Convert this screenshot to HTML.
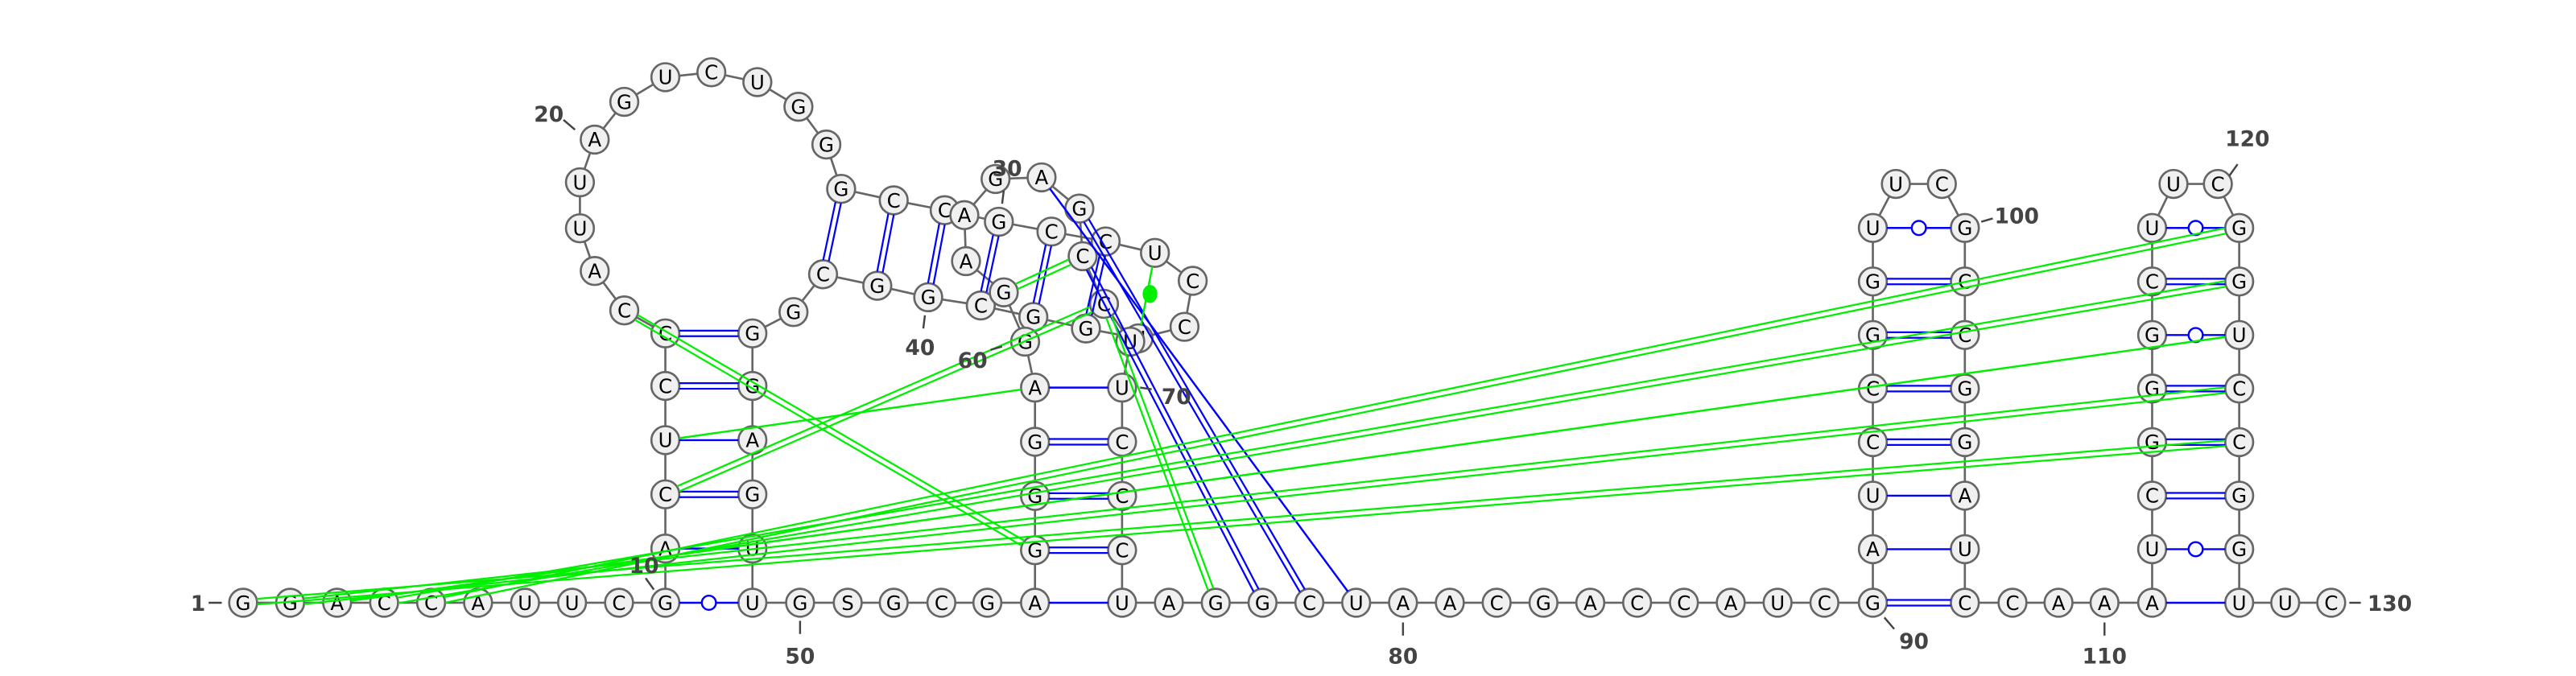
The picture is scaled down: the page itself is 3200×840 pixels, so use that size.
<!DOCTYPE html>
<html><head><meta charset="utf-8"><style>
html,body{margin:0;padding:0;background:#fff;}
svg{display:block;}
.nt{font-family:"DejaVu Sans","Liberation Sans",sans-serif;font-size:12px;fill:#000;}
.lbl{font-family:"DejaVu Sans","Liberation Sans",sans-serif;font-size:13px;font-weight:bold;fill:#444;}
</style></head><body>
<svg id="chart" width="3200" height="840" viewBox="0 0 1568 411.6" xmlns="http://www.w3.org/2000/svg">
<g id="backbone"></g>
<g id="nodes"></g>
<g id="pairs"></g>
<g id="labels"></g>
</svg>
<script>
const sequence = "GGACCAUUCGACUCCCAUUAGUCUGGGCCGCCUCCUGGCGGCGGGAGUUGSGCGAGGGAGGAAGAGCCUUCCCUAGGCUAACGACCAUCGAUCCGGUUCGCCGGAUCCAAAUCGGGCUUCGGUCCGGUUC";
// layout coordinates (diagram units) of each nucleotide 1..130
const layoutX = [148,176.6,205.2,233.8,262.4,291,319.6,348.2,376.8,405,
405,405,405,405,405,380,362,353,353,362,380,405,433,461,486,503,512,544,575,608,
640,673,703,726,721,693,661,629,597,565,534,501,483,458,458,458,458,458,458,487,
516,544,573,601,630,630,630,630,630,624,611,588,587,606,634,657,659,672,688,683,
683,683,683,683,711.5,740,768.5,797,825.5,854,882.5,911,939.5,968,996.5,1025,1053.5,1082,1110.5,1140,
1140,1140,1140,1140,1140,1140,1140,1154,1182,1196,1196,1196,1196,1196,1196,1196,1196,1225,1253,1281,
1310,1310,1310,1310,1310,1310,1310,1310,1323,1350,1363,1363,1363,1363,1363,1363,1363,1363,1391,1419];
const layoutY = [367,367,367,367,367,367,367,367,367,367,
334,301,268,235,203,189,165,139,111,85,62,47,44,50,65,88,115,122,128,135,
141,147,154,171,199,206,200,193,186,181,174,167,190,203,235,268,301,334,367,367,
367,367,367,367,367,335,302,269,236,208,178,159,131,109,108,127,156,185,208,236,
269,302,335,367,367,367,367,367,367,367,367,367,367,367,367,367,367,367,367,367,
334.4,301.8,269.2,236.6,204,171.4,138.8,112,112,138.8,171.4,204,236.6,269.2,301.8,334.4,367,367,367,367,
367,334.4,301.8,269.2,236.6,204,171.4,138.8,112,112,138.8,171.4,204,236.6,269.2,301.8,334.4,367,367,367];
// base pairs: i, j, kind (1=single,2=double,0=wobble), color
const pairI = [10,11,12,13,14,15,27,28,29,30,31,32,55,56,57,58,59,65,66,67,
90,91,92,93,94,95,96,97,111,112,113,114,115,116,117,118,
1,2,3,4,5,16,13,12,61,68,33];
const pairJ = [49,48,47,46,45,44,42,41,40,39,38,37,74,73,72,71,70,79,78,77,
107,106,105,104,103,102,101,100,128,127,126,125,124,123,122,121,
125,124,123,122,121,56,59,68,67,76,36];
const pairKind = [0,1,2,1,2,2,2,2,2,2,2,2,1,2,2,2,1,1,2,2,
2,1,1,2,2,2,2,0,1,0,2,2,2,0,2,0,
2,2,1,2,2,2,1,2,2,2,3];
const pairColor = ["b","b","b","b","b","b","b","b","b","b","b","b","b","b","b","b","b","b","b","b",
"b","b","b","b","b","b","b","b","b","b","b","b","b","b","b","b",
"g","g","g","g","g","g","g","g","g","g","g"];
const tickLabels = ["1","10","20","30","40","50","60","70","80","90","100","110","120","130"];
const tickPos = [1,10,20,30,40,50,60,70,80,90,100,110,120,130];

const NS="http://www.w3.org/2000/svg";
const R=8.5;
function px(i){return layoutX[i-1];}
function py(i){return layoutY[i-1];}
function mk(tag,attrs,parent){const e=document.createElementNS(NS,tag);for(const k in attrs)e.setAttribute(k,attrs[k]);parent.appendChild(e);return e;}
const gB=document.getElementById('backbone'),gN=document.getElementById('nodes'),gP=document.getElementById('pairs'),gL=document.getElementById('labels');
for(let i=1;i<sequence.length;i++){
  const l=mk('line',{x1:px(i),y1:py(i),x2:px(i+1),y2:py(i+1),stroke:'#666','stroke-width':1.3},gB);
  
  
}
for(let i=1;i<=sequence.length;i++){
  const g=mk('g',{},gN);
  
  
  mk('circle',{cx:px(i),cy:py(i),r:R,fill:'#f0f0f0',stroke:'#666','stroke-width':1.3},g);
  const t=mk('text',{x:px(i),y:py(i)+4.3,'text-anchor':'middle',class:'nt'},g);
  t.textContent=sequence[i-1];
}
for(let k=0;k<pairI.length;k++){
  const a=pairI[k],b=pairJ[k];
  let x1=px(a),y1=py(a),x2=px(b),y2=py(b);
  const dx=x2-x1,dy=y2-y1,L=Math.hypot(dx,dy),ux=dx/L,uy=dy/L;
  x1+=ux*R;y1+=uy*R;x2-=ux*R;y2-=uy*R;
  const col=pairColor[k]==="g"?"#00ee00":"#0000ff";
  const g=mk('g',{},gP);
  
  
  const kind=pairKind[k];
  if(kind===2){
    const o=1.7,nx=-uy*o,ny=ux*o;
    mk('line',{x1:x1+nx,y1:y1+ny,x2:x2+nx,y2:y2+ny,stroke:col,'stroke-width':1.1},g);
    mk('line',{x1:x1-nx,y1:y1-ny,x2:x2-nx,y2:y2-ny,stroke:col,'stroke-width':1.1},g);
  } else {
    mk('line',{x1:x1,y1:y1,x2:x2,y2:y2,stroke:col,'stroke-width':1.2},g);
    if(kind===0){
      mk('circle',{cx:(x1+x2)/2,cy:(y1+y2)/2,r:4.3,fill:'#fff',stroke:col,'stroke-width':1.2},g);
    } else if(kind===3){
      mk('ellipse',{cx:(x1+x2)/2+2,cy:(y1+y2)/2-1,rx:4.5,ry:5.5,fill:col},g);
    }
  }
}
const labelSpec={1:[116,372,127,367,135,367,'start'],10:[383,349,393,352,398,359,'start'],20:[325,74,343,73,350,79,'start'],
30:[604,107,611,116,610,124,'start'],40:[560,216,563,192,562,200,'middle'],50:[487,404,487,378,487,386,'middle'],
60:[583,224,603,213,610,211,'start'],70:[707,246,694,236,701,237,'start'],80:[854,404,854,379,854,387,'middle'],
90:[1165,395,1147,376,1153,383,'middle'],100:[1214,136,1206,135,1213,133,'start'],110:[1281,404,1281,379,1281,387,'middle'],
120:[1368,89,1362,100,1357,107,'middle'],130:[1441,372,1430,367,1437,367,'start']};
for(let k=0;k<tickLabels.length;k++){
  const s=labelSpec[tickPos[k]];
  const g=mk('g',{},gL);
  
  
  mk('line',{x1:s[2],y1:s[3],x2:s[4],y2:s[5],stroke:'#444','stroke-width':1.2},g);
  const t=mk('text',{x:s[0],y:s[1],'text-anchor':s[6],class:'lbl'},g);
  t.textContent=tickLabels[k];
}
</script>
</body></html>
